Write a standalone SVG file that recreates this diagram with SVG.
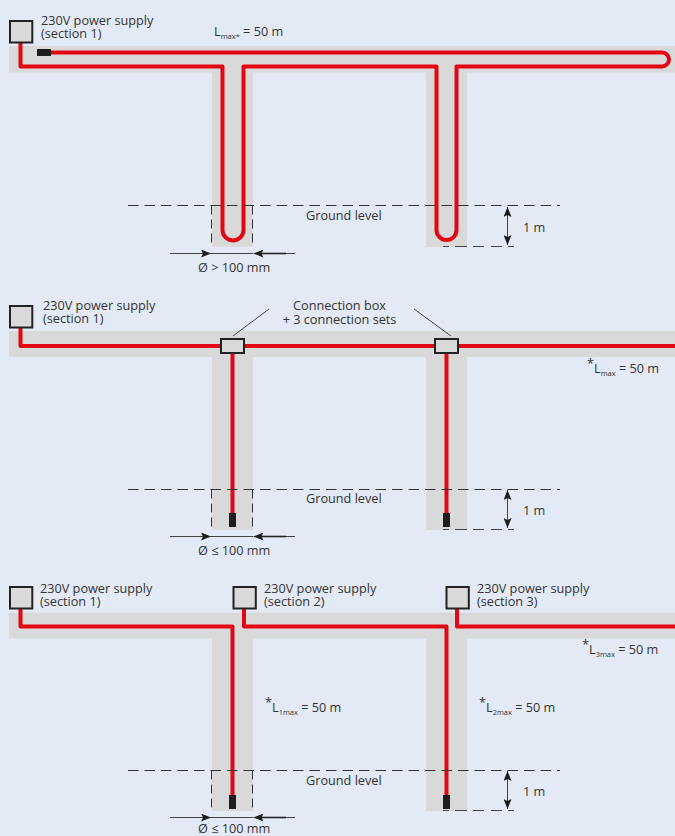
<svg xmlns="http://www.w3.org/2000/svg" width="675" height="836" viewBox="0 0 675 836">
<style>
text{font-family:"Open Sans","Noto Sans","Liberation Sans",sans-serif;font-size:12.7px;fill:#333}
.sub{font-size:7.5px}
.band{fill:#d9d9d9}
.box{fill:#d9d9d9;stroke:#222;stroke-width:2}
.red{fill:none;stroke:#e30613;stroke-width:4;stroke-linejoin:round}
.plug{fill:#1d1d1b}
.dash{fill:none;stroke:#333;stroke-width:1;stroke-dasharray:10.500 6}
.vdash{fill:none;stroke:#333;stroke-width:1;stroke-dasharray:9 5}
.thin{fill:none;stroke:#444;stroke-width:1}
.thick{fill:none;stroke:#222;stroke-width:1.600}
.dim{fill:none;stroke:#444;stroke-width:1;marker-end:url(#a)}
</style>
<defs><marker id="a" viewBox="0 0 10 8" refX="10" refY="4" markerWidth="10" markerHeight="8" markerUnits="userSpaceOnUse" orient="auto"><path d="M0 0L10 4L0 8L2 4Z" fill="#1d1d1b"/></marker></defs>
<rect width="675" height="836" fill="#e3eaf5"/>
<g id="ducts">
<path class="band" d="M9 46H675V72.500H467V247H426V72.500H253V247H212V72.500H9Z"/>
<path class="band" d="M9 331H675V357H467V530H426V357H253V530H212V357H9Z"/>
<path class="band" d="M9 612.500H675V638.500H467V811H426V638.500H253V811H212V638.500H9Z"/>
</g>
<g id="connectors">
<path class="red" d="M20.500 43V66.500H222.500V230A10.500 10.500 0 0 0 243.500 230V66.500H436.500V230A10 10 0 0 0 456.500 230V66.500H662A7 7 0 0 0 662 52.500H50"/>
<path class="red" d="M20.500 328V346H221M244 346H435M458 346H675M232.500 353V513M446.500 353V513"/>
<path class="red" d="M20.500 609V626.500H232.500V795M244 609V626.500H446.500V795M457 609V626.500H675"/>
<g class="guides">
<path class="dash" d="M128 205.500H560"/><path class="vdash" d="M211.500 205.500V247M252.500 205.500V247"/>
<path class="thin" d="M443 246.500H449M455 246.500H467M473 246.500H484M491 246.500H502M508 246.500H514"/>
<path class="dash" d="M128 489.500H560"/><path class="vdash" d="M211.500 489.500V530M252.500 489.500V530"/>
<path class="thin" d="M443 529.500H449M455 529.500H467M473 529.500H484M491 529.500H502M508 529.500H514"/>
<path class="dash" d="M128 770.500H560"/><path class="vdash" d="M211.500 770.500V811M252.500 770.500V811"/>
<path class="thin" d="M443 810.500H449M455 810.500H467M473 810.500H484M491 810.500H502M508 810.500H514"/>
<path class="dim" d="M170 253.500H211"/><path class="dim" d="M295 253.500H253.500"/><path class="thin" d="M211 253.500H253"/><path class="thick" d="M258 253.500H286"/>
<path class="dim" d="M170 536.500H211"/><path class="dim" d="M295 536.500H253.500"/><path class="thin" d="M211 536.500H253"/><path class="thick" d="M258 536.500H286"/>
<path class="dim" d="M170 817.500H211"/><path class="dim" d="M295 817.500H253.500"/><path class="thin" d="M211 817.500H253"/><path class="thick" d="M258 817.500H286"/>
<path class="dim" d="M507.500 227V207"/><path class="dim" d="M507.500 227V245"/>
<path class="dim" d="M507.500 510V490"/><path class="dim" d="M507.500 510V528"/>
<path class="dim" d="M507.500 791V771"/><path class="dim" d="M507.500 791V809"/>
<path class="thin" d="M233 336L269 309M414 309L451 336"/>
</g>
</g>
<g id="panel1">
<g id="supply1a"><rect class="box" x="10" y="21" width="22.300" height="21.500"/><text x="41" y="25">230V power supply<tspan x="41" dy="13.300">(section 1)</tspan></text></g>
<rect id="end1" class="plug" x="37" y="49" width="14" height="7"/>
<text x="214" y="36">L<tspan class="sub" dy="3">max*</tspan><tspan dy="-3"> = 50 m</tspan></text>
<text x="306" y="220">Ground level</text><text x="523" y="232">1 m</text>
<text x="198" y="272">Ø &gt; 100 mm</text>
</g>
<g id="panel2">
<g id="supply2a"><rect class="box" x="10" y="306" width="22.300" height="21.500"/><text x="43" y="310">230V power supply<tspan x="43" dy="13.300">(section 1)</tspan></text></g>
<g id="cbox1"><rect class="box" x="221" y="339" width="23" height="14"/></g>
<g id="cbox2"><rect class="box" x="435" y="339" width="23" height="14"/></g>
<rect class="plug" x="229" y="513" width="7" height="14"/><rect class="plug" x="443" y="513" width="7" height="14"/>
<text x="339.500" y="310" text-anchor="middle">Connection box<tspan x="339.500" dy="14">+ 3 connection sets</tspan></text>
<text x="587" y="368">*<tspan dy="5">L</tspan><tspan class="sub" dy="3">max</tspan><tspan dy="-3"> = 50 m</tspan></text>
<text x="306" y="503">Ground level</text><text x="523" y="515">1 m</text>
<text x="198" y="555">Ø ≤ 100 mm</text>
</g>
<g id="panel3">
<g id="supply3a"><rect class="box" x="10" y="587" width="22.300" height="21.500"/><text x="40" y="593">230V power supply<tspan x="40" dy="13.300">(section 1)</tspan></text></g>
<g id="supply3b"><rect class="box" x="233.500" y="587" width="22.300" height="21.500"/><text x="264" y="593">230V power supply<tspan x="264" dy="13.300">(section 2)</tspan></text></g>
<g id="supply3c"><rect class="box" x="446.500" y="587" width="22.300" height="21.500"/><text x="477" y="593">230V power supply<tspan x="477" dy="13.300">(section 3)</tspan></text></g>
<rect class="plug" x="229" y="795" width="7" height="14"/><rect class="plug" x="443" y="795" width="7" height="14"/>
<text x="265" y="707">*<tspan dy="5">L</tspan><tspan class="sub" dy="3">1max</tspan><tspan dy="-3"> = 50 m</tspan></text>
<text x="479" y="707">*<tspan dy="5">L</tspan><tspan class="sub" dy="3">2max</tspan><tspan dy="-3"> = 50 m</tspan></text>
<text x="582" y="649">*<tspan dy="5">L</tspan><tspan class="sub" dy="3">3max</tspan><tspan dy="-3"> = 50 m</tspan></text>
<text x="306" y="785">Ground level</text><text x="523" y="796">1 m</text>
<text x="198" y="833">Ø ≤ 100 mm</text>
</g>
</svg>
